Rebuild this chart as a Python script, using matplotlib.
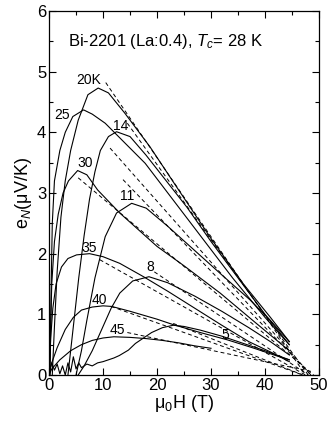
import matplotlib
matplotlib.use("Agg")
import matplotlib.pyplot as plt
from matplotlib.ticker import MultipleLocator

plt.rcParams['font.family'] = ['Liberation Sans', 'DejaVu Sans']
plt.rcParams['mathtext.fontset'] = 'custom'
plt.rcParams['mathtext.it'] = 'Liberation Sans:italic'
plt.rcParams['mathtext.rm'] = 'Liberation Sans'

# solid curves e_N(H), per temperature
h_20 = [0.6, 1.0, 1.5, 2.2, 3.0, 4.0, 5.4, 7.2, 9.1, 11, 14, 18.7, 24, 30, 36, 41, 44.5]
e_20 = [0, 0.8, 1.7, 2.6, 3.2, 3.7, 4.2, 4.62, 4.73, 4.65, 4.32, 3.76, 3.05, 2.25, 1.5, 0.95, 0.55]

h_25 = [0.2, 0.4, 0.6, 1.0, 2.0, 3.0, 4.4, 6.4, 8, 10.4, 14.1, 17.8, 22, 28, 34, 40, 44.5]
e_25 = [0, 1.5, 2.5, 3.2, 3.7, 4.0, 4.26, 4.37, 4.3, 4.15, 3.82, 3.49, 3.0, 2.3, 1.6, 0.95, 0.5]

h_14 = [3.5, 4.5, 5.5, 6.5, 7.5, 8.5, 9.5, 11, 12.5, 15, 18, 21, 25.5, 30, 35, 40, 44.5]
e_14 = [0, 0.8, 1.6, 2.3, 2.9, 3.35, 3.7, 3.93, 4.01, 3.93, 3.62, 3.28, 2.77, 2.2, 1.6, 1.0, 0.5]

h_30 = [0, 0.3, 0.5, 1.0, 1.7, 2.6, 3.6, 5.3, 7, 9, 13.1, 20, 25, 31.7, 38, 44.5]
e_30 = [0, 0.8, 1.5, 2.2, 2.65, 3.0, 3.2, 3.37, 3.3, 3.05, 2.67, 2.12, 1.8, 1.35, 0.88, 0.4]

h_11 = [5, 6, 7, 8.5, 10.4, 12.5, 15.3, 18, 22, 27, 32, 37.2, 41, 44.5]
e_11 = [0, 0.4, 0.9, 1.6, 2.28, 2.67, 2.83, 2.75, 2.45, 2.05, 1.65, 1.24, 0.9, 0.55]

h_35 = [0, 0.3, 0.7, 1.3, 2.3, 3.5, 5.1, 7.5, 10, 13.1, 17.5, 22, 27, 32, 37, 41, 44.5]
e_35 = [0, 0.6, 1.1, 1.5, 1.78, 1.92, 1.98, 2.0, 1.95, 1.84, 1.62, 1.38, 1.1, 0.82, 0.55, 0.38, 0.22]

h_8 = [5.4, 6.5, 8, 10, 11.5, 13.1, 15.5, 18.5, 22, 27, 32, 37, 41, 44.5]
e_8 = [0, 0.15, 0.4, 0.8, 1.1, 1.35, 1.55, 1.62, 1.52, 1.3, 1.05, 0.78, 0.55, 0.33]

h_40 = [0, 0.5, 1.5, 3, 4.5, 6, 8, 10, 11.6, 15, 20, 23, 28, 33, 38, 42, 44.5]
e_40 = [0, 0.2, 0.45, 0.75, 0.95, 1.07, 1.12, 1.14, 1.13, 1.05, 0.92, 0.83, 0.7, 0.58, 0.44, 0.32, 0.25]

h_5 = [0, 0.5, 1, 1.5, 2, 2.5, 3, 3.5, 4, 4.5, 5, 5.5, 6, 7, 8, 9, 10, 11, 12, 13, 14.7,
       16, 17.5, 19, 21, 23, 25, 28, 32, 36, 40, 44.5]
e_5 = [0.05, 0.2, 0.08, 0.18, 0.02, 0.15, 0.0, 0.2, 0.05, 0.3, 0.1, 0.2, 0.12, 0.18, 0.15, 0.2,
       0.22, 0.25, 0.28, 0.32, 0.41, 0.52, 0.61, 0.7, 0.78, 0.82, 0.8, 0.74, 0.64, 0.52, 0.4, 0.25]

h_45 = [0, 0.5, 1, 2, 4, 6, 8, 10, 12, 15, 18, 21, 24, 27, 30]
e_45 = [0, 0.1, 0.15, 0.25, 0.4, 0.5, 0.57, 0.61, 0.63, 0.62, 0.6, 0.57, 0.53, 0.48, 0.44]

curves = [(h_20, e_20), (h_25, e_25), (h_14, e_14), (h_30, e_30), (h_11, e_11),
          (h_35, e_35), (h_8, e_8), (h_40, e_40), (h_5, e_5), (h_45, e_45)]

# dashed high-field linear fits: (H start, e start, H end, e end)
fits = [(10.5, 4.82, 47.5, 0.0), (14.5, 4.15, 48.0, 0.0), (11.3, 3.74, 48.5, 0.0),
        (13.7, 3.22, 48.5, 0.0), (5.4, 3.25, 49.0, 0.0), (9.4, 1.9, 47.5, 0.0),
        (19.5, 1.7, 48.0, 0.0), (11.5, 1.13, 47.0, 0.0), (14.5, 0.7, 49.0, 0.05),
        (23.0, 0.85, 47.0, 0.0)]

labels = ['20K', '25', '14', '30', '11', '35', '8', '40', '45', '5']
label_x = [7.3, 2.5, 13.2, 6.6, 14.5, 7.5, 18.7, 9.35, 12.7, 32.6]
label_y = [4.86, 4.29, 4.10, 3.50, 2.95, 2.10, 1.78, 1.24, 0.74, 0.66]

fig = plt.figure(figsize=(3.27, 4.23), dpi=100)
ax = fig.add_axes([0.150, 0.1135, 0.8255, 0.8605])

for h, e in curves:
    ax.plot(h, e, color='black', lw=0.8)
for x0, y0, x1, y1 in fits:
    ax.plot([x0, x1], [y0, y1], color='black', lw=0.7, ls=(0, (4, 3)))

for t, x, y in zip(labels, label_x, label_y):
    ax.text(x, y, t, fontsize=10, ha='center', va='center')

ax.text(3.5, 5.5, 'Bi-2201 (La:0.4), $T_c$= 28 K', fontsize=12, va='center')

ax.set_xlim(0, 50)
ax.set_ylim(0, 6)
ax.xaxis.set_major_locator(MultipleLocator(10))
ax.xaxis.set_minor_locator(MultipleLocator(5))
ax.yaxis.set_major_locator(MultipleLocator(1))
ax.yaxis.set_minor_locator(MultipleLocator(0.5))
ax.tick_params(which='both', direction='in', top=True, right=True, labelsize=12, width=0.8)
ax.tick_params(which='major', length=5, pad=2)
ax.tick_params(which='minor', length=3)
for s in ax.spines.values():
    s.set_linewidth(0.9)

ax.set_xlabel('μ$_0$H (T)', fontsize=13, labelpad=0)
ax.set_ylabel('e$_N$(μV/K)', fontsize=13, labelpad=2)

fig.savefig('out.png', dpi=100)
